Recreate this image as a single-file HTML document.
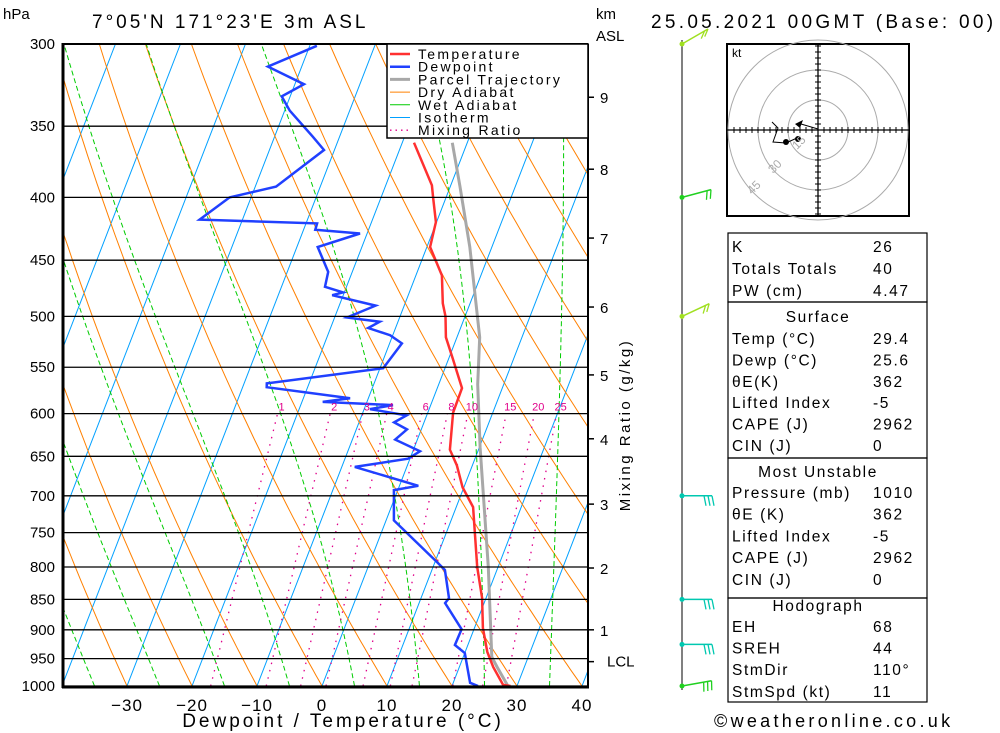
<!DOCTYPE html>
<html><head><meta charset="utf-8"><style>
html,body{margin:0;padding:0;background:#fff;}
svg{display:block;font-family:"Liberation Sans",sans-serif;}
</style></head><body>
<svg id="chart" width="1000" height="733" viewBox="0 0 1000 733" xmlns="http://www.w3.org/2000/svg">
<defs><clipPath id="plotclip"><rect x="63" y="44" width="525" height="642"/></clipPath></defs>
<text x="3" y="19" font-size="15">hPa</text>
<text x="92" y="28" font-size="19" letter-spacing="3">7°05'N 171°23'E 3m ASL</text>
<text x="596" y="19" font-size="15">km</text>
<text x="596" y="41" font-size="15">ASL</text>
<text x="651" y="28" font-size="19" letter-spacing="3.3">25.05.2021 00GMT (Base: 00)</text>
<g id="bg" clip-path="url(#plotclip)"></g>
<g id="curves" clip-path="url(#plotclip)"></g>
<g id="axes"></g>
<g id="legend">
<rect x="387" y="44" width="201" height="94" fill="#fff" stroke="#000" stroke-width="1.5"/>
</g>
<text x="0" y="0" font-size="15" transform="translate(630,425) rotate(-90)" text-anchor="middle" letter-spacing="2.5">Mixing Ratio (g/kg)</text>
<text x="343" y="727" font-size="19" text-anchor="middle" letter-spacing="3">Dewpoint / Temperature (°C)</text>
<text x="714" y="727" font-size="18" letter-spacing="3.3">©weatheronline.co.uk</text>
<g id="winds"></g>
<g id="hodo"></g>
<g id="table"></g>
</svg>
<script>
const NS="http://www.w3.org/2000/svg";
// ---- data ----
const pressureLevels=[300,350,400,450,500,550,600,650,700,750,800,850,900,950,1000];
const tempTicks=[-30,-20,-10,0,10,20,30,40];
const kmLevels=[9,8,7,6,5,4,3,2,1];
const kmPressure=[331.5,379.4,431.7,491.3,558,629,711,801.5,900];
const tempP=[361,391,400,419,439,463,488,500,520,541,572,599,642,661,689,715,800,848,897,938,965,998,1000];
const tempT=[-18.2,-12.9,-12.0,-10.1,-9.5,-6.0,-4.2,-3.0,-1.7,0.6,3.8,3.9,5.6,7.6,9.8,12.6,16.8,19.4,21.3,23.4,25.2,27.8,29.0];
const dewP=[301,313,323.5,331,340,357,366,392,400,417,420,425,428,439,460,473,478,480.5,490,501,505,511,518,526,551,567,571,583,587,590.5,595,602,610,618,630,644,653,663,687,692.5,733,792.5,804.5,848,856,899,926,940,994,1000];
const dewT=[-38.9,-45.2,-38.6,-41.3,-39.2,-34.1,-31.6,-36.8,-43.3,-46.6,-28.3,-28.2,-21.1,-26.8,-23.7,-23.3,-20.2,-21.7,-14.4,-18.1,-12.8,-14.2,-10.4,-8.1,-9.5,-26.5,-26.3,-12.8,-16.8,-5.8,-9.1,-3.1,-4.6,-2.2,-3.4,1.1,-0.3,-8.0,2.9,-0.6,1.2,10.3,12.0,14.3,14.0,18.1,18.0,20.0,22.6,24.0];
const parcelP=[361,392,439,520,568,639,800,947,965,1000];
const parcelT=[-12.3,-8.5,-3.4,3.5,6.0,10.1,18.5,24.4,25.8,28.6];
const mixRatios=[1,2,3,4,6,8,10,15,20,25];
const windP=[300,400,500,700,850,925,1000];
const windDir=[60,75,65,90,90,90,80];
const windSpd=[10,10,10,15,15,15,15];
const windCol=["#a0e020","#20d020","#a0e020","#00c8b0","#00c8b0","#00c8b0","#20d020"];
const idxLabels=[["K","26"],["Totals Totals","40"],["PW (cm)","4.47"]];
const sfcLabels=[["Temp (°C)","29.4"],["Dewp (°C)","25.6"],["θE(K)","362"],["Lifted Index","-5"],["CAPE (J)","2962"],["CIN (J)","0"]];
const muLabels=[["Pressure (mb)","1010"],["θE (K)","362"],["Lifted Index","-5"],["CAPE (J)","2962"],["CIN (J)","0"]];
const hodoLabels=[["EH","68"],["SREH","44"],["StmDir","110°"],["StmSpd (kt)","11"]];
// ---- scales ----
const LN=Math.log(1000/300);
function yP(p){return 686-Math.log(1000/p)/LN*642;}
function xT(T,p){return 322+6.5*T+0.387*(686-yP(p));}
function el(tag,attrs,parent){const e=document.createElementNS(NS,tag);for(const k in attrs)e.setAttribute(k,attrs[k]);parent.appendChild(e);return e;}
function pathFrom(ps,ts){let d="";for(let i=0;i<ps.length;i++){d+=(i?"L":"M")+xT(ts[i],ps[i]).toFixed(1)+","+yP(ps[i]).toFixed(1);}return d;}
const bg=document.getElementById("bg"),cv=document.getElementById("curves"),ax=document.getElementById("axes");
for(let T=-130;T<=40;T+=10){const e=el("line",{x1:xT(T,1000),y1:yP(1000),x2:xT(T,300),y2:yP(300),stroke:"#00a0ff","stroke-width":1},bg);

}
for(let th=-60;th<=160;th+=10){let d="";for(let p=1000;p>=300;p-=10){const T=(th+273.15)*Math.pow(p/1000,0.286)-273.15;d+=(p==1000?"M":"L")+xT(T,p).toFixed(1)+","+yP(p).toFixed(1);}
const e=el("path",{d:d,fill:"none",stroke:"#ff8000","stroke-width":1},bg);

}
function es(T){return 6.112*Math.exp(17.67*T/(T+243.5));}
for(let t0=-45;t0<=35;t0+=10){let T=t0,d="";for(let p=1000;p>=300;p-=5){d+=(p==1000?"M":"L")+xT(T,p).toFixed(1)+","+yP(p).toFixed(1);
const Tk=T+273.15,e=es(T),rs=0.622*e/(p-e);const g=(287*Tk+2.5e6*rs)/(p*(1004+2.5e6*2.5e6*rs*0.622/(287*Tk*Tk)));T-=g*5;}
const e=el("path",{d:d,fill:"none",stroke:"#00cc00","stroke-width":1,"stroke-dasharray":"5,3"},bg);

}
function tdFromW(w,p){const e=w*p/(622+w);const l=Math.log(e/6.112);return 243.5*l/(17.67-l);}
mixRatios.forEach(w=>{const e=el("line",{x1:xT(tdFromW(w,1000),1000),y1:yP(1000),x2:xT(tdFromW(w,600),600),y2:yP(600),stroke:"#e0008a","stroke-width":1.3,"stroke-dasharray":"1.5,6"},bg);


const t=el("text",{x:xT(tdFromW(w,600),600)+4,y:yP(600)-3,"font-size":11,fill:"#e0008a","text-anchor":"middle"},ax);t.textContent=w;

});
pressureLevels.forEach(p=>{const e=el("line",{x1:63,x2:588,y1:yP(p),y2:yP(p),stroke:"#000","stroke-width":1.3},ax);


const t=el("text",{x:55,y:yP(p)+5,"font-size":15,"text-anchor":"end"},ax);t.textContent=p;

});
let f=el("line",{x1:63,y1:43,x2:63,y2:688,stroke:"#000","stroke-width":3},ax);


f=el("line",{x1:62,y1:687,x2:589,y2:687,stroke:"#000","stroke-width":3},ax);


f=el("line",{x1:588,y1:44,x2:588,y2:688,stroke:"#000","stroke-width":2},ax);


f=el("line",{x1:63,y1:44,x2:588,y2:44,stroke:"#000","stroke-width":2},ax);


tempTicks.forEach(T=>{const t=el("text",{x:xT(T,1000),y:711,"font-size":17,"text-anchor":"middle","letter-spacing":"1"},ax);t.textContent=(T<0?"\u2212"+(-T):T);

});
kmLevels.forEach((k,i)=>{const y=yP(kmPressure[i]);const l=el("line",{x1:588,x2:594,y1:y,y2:y,stroke:"#000","stroke-width":1.5},ax);


const t=el("text",{x:600,y:y+6,"font-size":15},ax);t.textContent=k;

});
{const y=yP(950)+3;const l=el("line",{x1:588,x2:594,y1:y,y2:y,stroke:"#000","stroke-width":1.5},ax);


const t=el("text",{x:607,y:y+5,"font-size":15},ax);t.textContent="LCL";

}
let c=el("path",{d:pathFrom(parcelP,parcelT),fill:"none",stroke:"#a8a8a8","stroke-width":3},cv);


c=el("path",{d:pathFrom(tempP,tempT),fill:"none",stroke:"#ff3030","stroke-width":2.5},cv);


c=el("path",{d:pathFrom(dewP,dewT),fill:"none",stroke:"#2040ff","stroke-width":2.5},cv);


const lg=document.getElementById("legend");
const legNames=["Temperature","Dewpoint","Parcel Trajectory","Dry Adiabat","Wet Adiabat","Isotherm","Mixing Ratio"];
const legCols=["#ff3030","#2040ff","#a8a8a8","#ff8000","#00cc00","#00a0ff","#e0008a"];
const legW=[2.5,2.5,3,1,1,1,1.3];
legNames.forEach((n,i)=>{const y=54+i*12.7;const l=el("line",{x1:390,x2:410,y1:y,y2:y,stroke:legCols[i],"stroke-width":legW[i],"stroke-dasharray":i==6?"1.5,4":"none"},lg);


const t=el("text",{x:418,y:y+5,"font-size":14,"letter-spacing":"2.3"},lg);t.textContent=n;

});
const wg=document.getElementById("winds");
let wl=el("line",{x1:682,y1:40,x2:682,y2:690,stroke:"#000","stroke-width":1},wg);


windP.forEach((p,i)=>{const y=yP(p),a=(90-windDir[i])*Math.PI/180;const dx=Math.cos(a),dy=-Math.sin(a);const L=30;
const x2=682+dx*L,y2=y+dy*L;
const s=el("line",{x1:682,y1:y,x2:x2,y2:y2,stroke:windCol[i],"stroke-width":1.5},wg);


const n=Math.round(windSpd[i]/5);for(let k=0;k<n;k++){const bx=682+dx*(L-k*4),by=y+dy*(L-k*4);const len=10;
const b=el("line",{x1:bx,y1:by,x2:bx+dy*len+dx*2,y2:by-dx*len*-1+dy*2,stroke:windCol[i],"stroke-width":1.3},wg);

}
const d=el("circle",{cx:682,cy:y,r:2.5,fill:windCol[i]},wg);

});
const hg=document.getElementById("hodo");
let hb=el("rect",{x:727,y:44,width:182,height:172,fill:"#fff",stroke:"#000","stroke-width":2},hg);


[30,60,90].forEach(r=>{const e=el("circle",{cx:818,cy:130,r:r,fill:"none",stroke:"#aaa","stroke-width":1},hg);

});
let hl=el("path",{d:"M727,130H909M818,44V216",stroke:"#000","stroke-width":1.3},hg);


let tk="";for(let k=-84;k<=84;k+=6){if(k==0)continue;tk+=`M${818+k},127V133M815,${130+k}H821`;}
hl=el("path",{d:tk,stroke:"#000","stroke-width":1},hg);


let tr=el("path",{d:"M818,129L801,124M772,122L778,128L773,142L786,143L797,138",fill:"none",stroke:"#000","stroke-width":1},hg);


tr=el("polygon",{points:"795,124 803,120 800,128",fill:"#000"},hg);


[[786,142],[798,139]].forEach(q=>{const e=el("circle",{cx:q[0],cy:q[1],r:3,fill:"#000"},hg);

});
let kt=el("text",{x:732,y:57,"font-size":12},hg);kt.textContent="kt";


[["15",797,150],["30",773,174],["45",752,195]].forEach(q=>{const t=el("text",{x:q[1],y:q[2],"font-size":12,fill:"#aaa",transform:`rotate(-45 ${q[1]} ${q[2]})`},hg);t.textContent=q[0];

});
const tg=document.getElementById("table");
function box(y1,y2){const r=el("rect",{x:728,y:y1,width:199,height:y2-y1,fill:"none",stroke:"#000","stroke-width":1.2},tg);

}
function row(label,val,y){const a=el("text",{x:732,y:y+6,"font-size":15.5,"letter-spacing":"1.6"},tg);a.textContent=label;


const b=el("text",{x:873,y:y+6,"font-size":15.5,"letter-spacing":"1.6"},tg);b.textContent=val;

}
function head(t,y){const a=el("text",{x:818,y:y+6,"font-size":15.5,"text-anchor":"middle","letter-spacing":"1.6"},tg);a.textContent=t;

}
box(233,302);box(302,458);box(458,598);box(598,702);
idxLabels.forEach((r,i)=>row(r[0],r[1],246+i*22));
head("Surface",316);sfcLabels.forEach((r,i)=>row(r[0],r[1],338+i*21.4));
head("Most Unstable",471);muLabels.forEach((r,i)=>row(r[0],r[1],492+i*21.7));
head("Hodograph",605);hodoLabels.forEach((r,i)=>row(r[0],r[1],626+i*21.6));
</script>
</body></html>
